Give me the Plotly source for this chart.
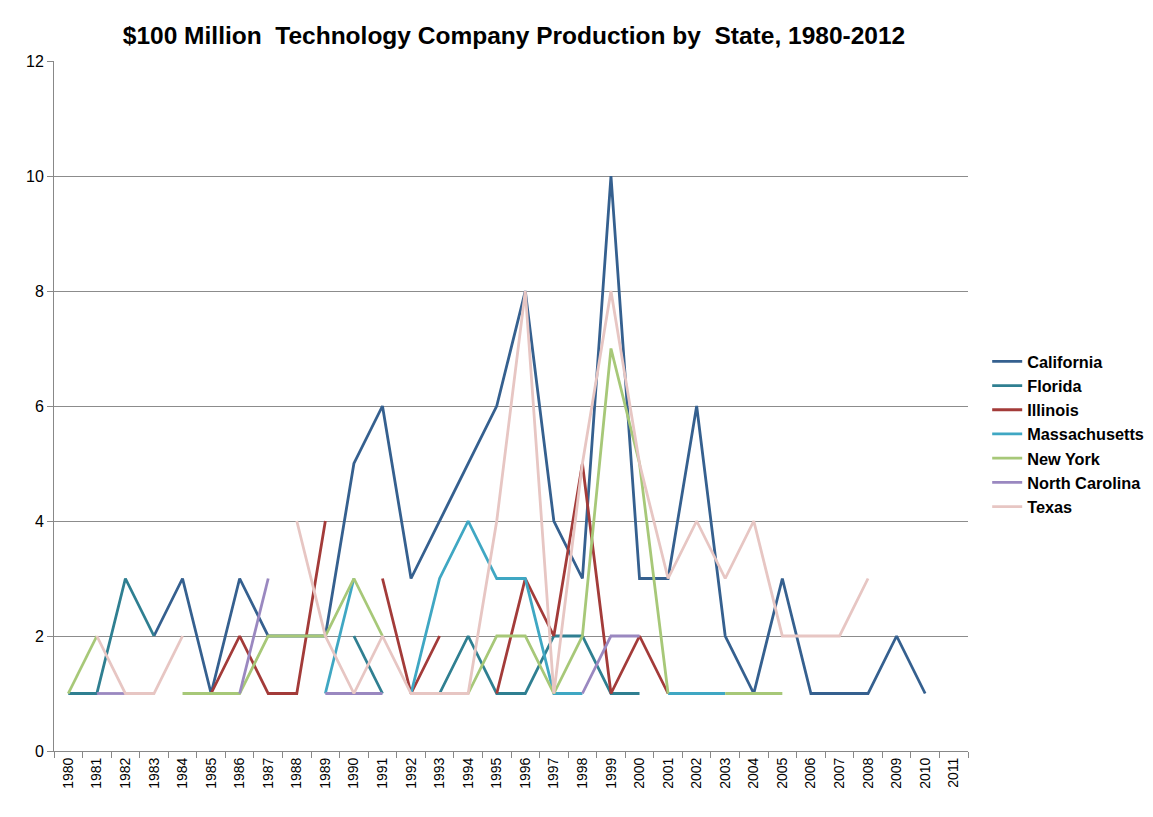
import plotly.graph_objects as go

years = [str(y) for y in range(1980, 2012)]
N = None
california = [N, N, N, 2, 3, 1, 3, 2, 2, 2, 5, 6, 3, 4, 5, 6, 8, 4, 3, 10, 3, 3, 6, 2, 1, 3, 1, 1, 1, 2, 1, N]
florida = [1, 1, 3, 2, N, N, N, N, N, N, 2, 1, N, 1, 2, 1, 1, 2, 2, 1, 1, N, N, N, N, N, N, N, N, N, N, N]
illinois = [N, N, N, N, N, 1, 2, 1, 1, 4, N, 3, 1, 2, N, 1, 3, 2, 5, 1, 2, 1, N, N, N, N, N, N, N, N, N, N]
massachusetts = [N, N, N, N, N, N, N, N, N, 1, 3, N, 1, 3, 4, 3, 3, 1, 1, N, N, 1, 1, 1, N, N, N, N, N, N, N, N]
new_york = [1, 2, N, N, 1, 1, 1, 2, 2, 2, 3, 2, N, N, 1, 2, 2, 1, 2, 7, 5, 1, N, 1, 1, 1, N, N, N, N, N, N]
north_carolina = [N, 1, 1, N, N, N, 1, 3, N, 1, 1, 1, N, N, N, N, N, N, 1, 2, 2, N, N, N, N, N, N, N, N, N, N, N]
texas = [N, 2, 1, 1, 2, N, N, N, 4, 2, 1, 2, 1, 1, 1, 4, 8, 1, 5, 8, 5, 3, 4, 3, 4, 2, 2, 2, 3, N, N, N]

series = [
    ("California", california, "#35608f"),
    ("Florida", florida, "#2f7f91"),
    ("Illinois", illinois, "#a33b39"),
    ("Massachusetts", massachusetts, "#3fa7c3"),
    ("New York", new_york, "#a7c878"),
    ("North Carolina", north_carolina, "#9a88c0"),
    ("Texas", texas, "#e7c6c3"),
]

fig = go.Figure()
for name, vals, col in series:
    fig.add_trace(go.Scatter(x=years, y=vals, name="<b>" + name + "</b>", mode="lines",
                             line=dict(color=col, width=2.8), connectgaps=False))

fig.update_layout(
    width=1153, height=817,
    margin=dict(l=54, r=185, t=61, b=66, autoexpand=False),
    paper_bgcolor="white", plot_bgcolor="white",
    font=dict(family="Liberation Sans, Arial, sans-serif", color="#000"),
    title=dict(text="<b>$100 Million\u00a0 Technology Company Production by\u00a0 State, 1980-2012</b>",
               x=0.4458, xanchor="center", y=0.957, yanchor="middle",
               font=dict(size=24.5, color="#000")),
    legend=dict(x=1.021, y=0.459, xanchor="left", yanchor="middle",
                font=dict(size=16.3), tracegroupgap=0, itemwidth=30,
                bgcolor="rgba(0,0,0,0)"),
    showlegend=True,
)

fig.update_xaxes(type="category", categoryorder="array", categoryarray=years,
                 tickson="boundaries", ticks="outside", ticklen=6, tickcolor="#888",
                 tickangle=-90, tickfont=dict(size=14), showgrid=False,
                 showline=True, linecolor="#888", linewidth=1,
                 range=[-0.5, 31.5])
fig.update_yaxes(range=[0, 12], dtick=2, ticks="outside", ticklen=6, tickcolor="#888",
                 showgrid=True, gridcolor="#8c8c8c", gridwidth=1,
                 showline=True, linecolor="#888", linewidth=1,
                 tickfont=dict(size=16), zeroline=False)

fig.write_html("out.html")
